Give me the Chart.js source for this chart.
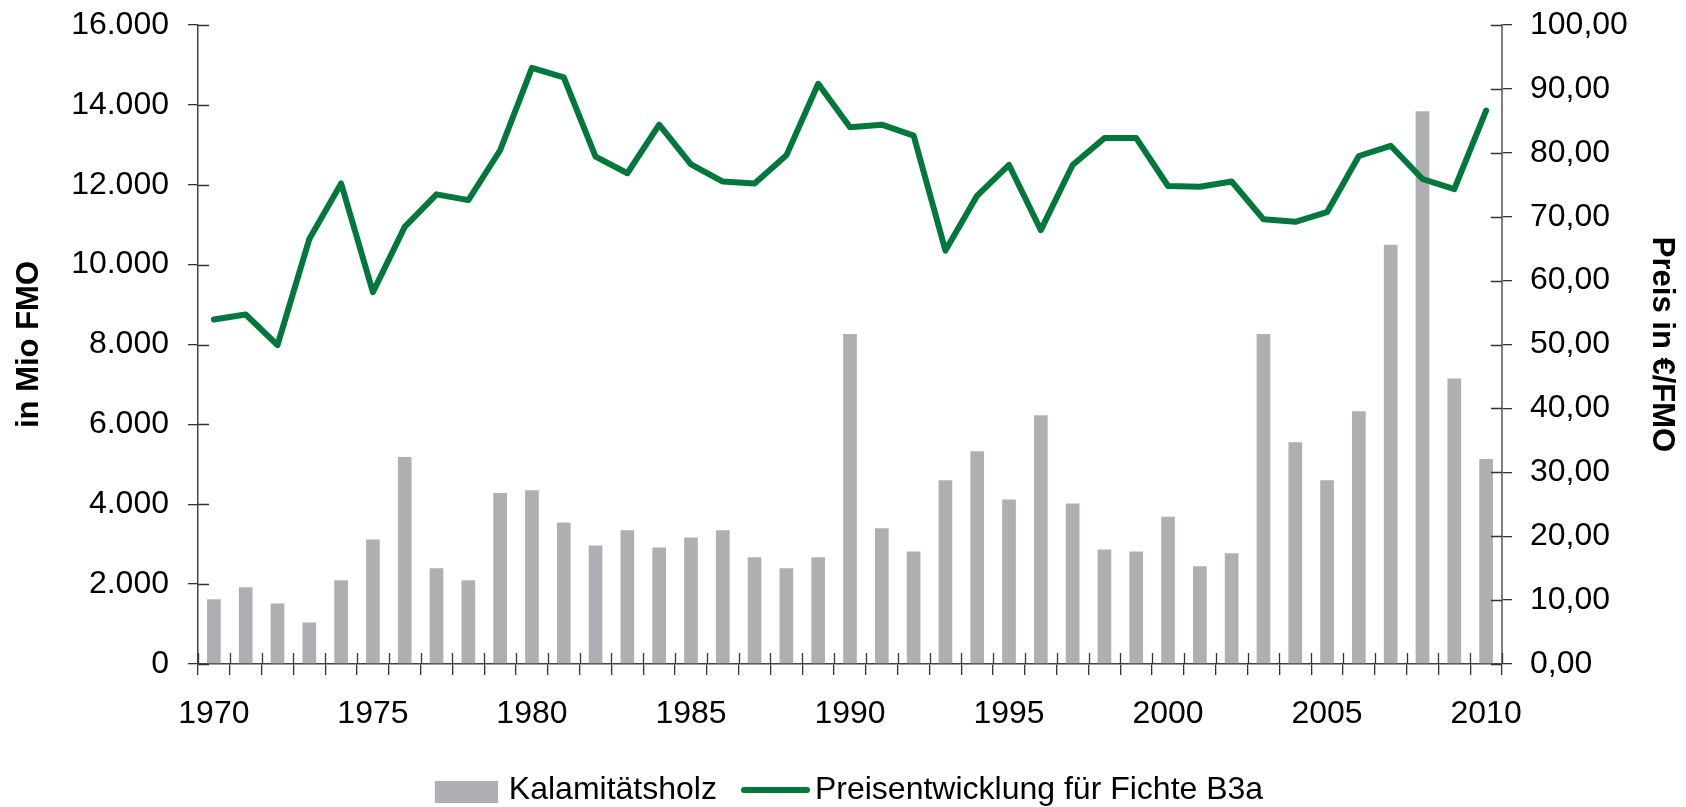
<!DOCTYPE html>
<html>
<head>
<meta charset="utf-8">
<script src="https://cdn.jsdelivr.net/npm/chart.js@4.4.1/dist/chart.umd.min.js"></script>
<style>
html,body{margin:0;padding:0;background:#fff;}
#wrap{width:1686px;height:807px;position:relative;}
canvas{display:block;}
</style>
</head>
<body>
<div id="wrap"><canvas id="c" width="1686" height="807"></canvas></div>
<script>
// ---- data ----
const years = ['1970','1971','1972','1973','1974','1975','1976','1977','1978','1979',
               '1980','1981','1982','1983','1984','1985','1986','1987','1988','1989',
               '1990','1991','1992','1993','1994','1995','1996','1997','1998','1999',
               '2000','2001','2002','2003','2004','2005','2006','2007','2008','2009',
               '2010'];
const kalamitaetsholz = [1620,1920,1515,1040,2100,3120,5180,2400,2100,4280,
                         4350,3545,2970,3350,2920,3170,3350,2675,2400,2675,
                         8260,3400,2820,4600,5330,4120,6230,4020,2870,2820,
                         3690,2445,2770,8260,5550,4600,6330,10500,13840,7150,
                         5130];
const preisFichte = [53.9,54.7,49.9,66.5,75.2,58.2,68.4,73.5,72.6,80.4,
                     93.3,91.8,79.4,76.8,84.4,78.2,75.5,75.2,79.6,90.8,
                     84.0,84.4,82.7,64.7,73.3,78.1,67.9,78.1,82.3,82.3,
                     74.8,74.7,75.5,69.6,69.2,70.7,79.5,81.1,75.9,74.3,
                     86.6];
const seriesNames = ['Kalamitätsholz', 'Preisentwicklung für Fichte B3a'];
const axisTitles = ['in Mio FMO', 'Preis in €/FMO'];

// ---- styles ----
const GRAY = '#AEAFB3';
const GREEN = '#00783B';
const FONT = "'Liberation Sans', Arial, Helvetica, sans-serif";

function legendBoxImage() {
  const c = document.createElement('canvas');
  c.width = 80; c.height = 26;
  const g = c.getContext('2d');
  g.fillStyle = GRAY;
  g.fillRect(17, 4, 63, 22);
  return c;
}
function legendLineImage() {
  const c = document.createElement('canvas');
  c.width = 92; c.height = 8;
  const g = c.getContext('2d');
  g.strokeStyle = GREEN;
  g.lineWidth = 6;
  g.lineCap = 'round';
  g.beginPath();
  g.moveTo(26, 4); g.lineTo(89, 4);
  g.stroke();
  return c;
}
const legendImgs = [legendBoxImage(), legendLineImage()];

const innerTicks = {
  id: 'innerTicks',
  afterDraw(chart) {
    const {ctx} = chart;
    const x = chart.scales.x, y = chart.scales.y, y1 = chart.scales.y1;
    ctx.save();
    ctx.lineWidth = 1.3;
    ctx.strokeStyle = '#333';
    ctx.beginPath();
    y.ticks.forEach((t, i) => {
      const py = Math.round(y.getPixelForTick(i)) + 0.5;
      ctx.moveTo(y.right, py); ctx.lineTo(y.right + 11, py);
    });
    y1.ticks.forEach((t, i) => {
      const py = Math.round(y1.getPixelForTick(i)) + 0.5;
      ctx.moveTo(y1.left - 11, py); ctx.lineTo(y1.left, py);
    });
    const n = x.ticks.length;
    for (let i = 0; i <= n; i++) {
      let px;
      if (i === 0) px = x.left;
      else if (i === n) px = x.right;
      else px = (x.getPixelForTick(i - 1) + x.getPixelForTick(i)) / 2;
      px = Math.round(px) + 0.5;
      ctx.moveTo(px, x.top); ctx.lineTo(px, x.top - 11);
    }
    ctx.stroke();
    ctx.restore();
  }
};

Chart.defaults.font.family = FONT;
Chart.defaults.color = '#000';

new Chart(document.getElementById('c'), {
  type: 'bar',
  data: {
    labels: years,
    datasets: [
      {
        type: 'bar',
        label: seriesNames[0],
        data: kalamitaetsholz,
        yAxisID: 'y',
        backgroundColor: GRAY,
        borderWidth: 0,
        barPercentage: 0.43,
        categoryPercentage: 1.0,
        order: 2
      },
      {
        type: 'line',
        label: seriesNames[1],
        data: preisFichte,
        yAxisID: 'y1',
        borderColor: GREEN,
        backgroundColor: GREEN,
        borderWidth: 6,
        borderJoinStyle: 'round',
        borderCapStyle: 'round',
        pointRadius: 0,
        pointHoverRadius: 0,
        tension: 0,
        fill: false,
        order: 1
      }
    ]
  },
  options: {
    responsive: false,
    animation: false,
    devicePixelRatio: 1,
    layout: { padding: { top: 25, left: 0, right: 0, bottom: -9 } },
    plugins: {
      tooltip: { enabled: false },
      legend: {
        position: 'bottom',
        align: 'center',
        labels: {
          font: { size: 32, family: FONT },
          color: '#000',
          usePointStyle: true,
          pointStyleWidth: 70,
          padding: 12,
          generateLabels(chart) {
            return chart.data.datasets.map((ds, i) => ({
              text: ds.label,
              datasetIndex: i,
              pointStyle: legendImgs[i],
              fillStyle: i === 0 ? GRAY : GREEN,
              strokeStyle: i === 0 ? GRAY : GREEN,
              lineWidth: 0,
              hidden: false,
              fontColor: '#000'
            }));
          }
        }
      }
    },
    scales: {
      x: {
        type: 'category',
        offset: true,
        afterFit(s) { s.height = 98; },
        grid: {
          offset: true,
          drawOnChartArea: false,
          drawTicks: true,
          tickLength: 11,
          color: '#333',
          lineWidth: 1.3
        },
        border: { display: true, color: '#444', width: 1.5 },
        ticks: {
          autoSkip: false,
          maxRotation: 0,
          minRotation: 0,
          padding: 20,
          font: { size: 32 },
          color: '#000',
          callback(value, index) {
            const lab = this.getLabelForValue(value);
            return (parseInt(lab, 10) % 5 === 0) ? lab : '';
          }
        }
      },
      y: {
        type: 'linear',
        position: 'left',
        min: 0,
        max: 16000,
        afterFit(s) { s.width = 198; s.paddingTop = 0; s.paddingBottom = 0; },
        grid: {
          drawOnChartArea: false,
          drawTicks: true,
          tickLength: 10,
          color: '#333',
          lineWidth: 1.3
        },
        border: { display: true, color: '#444', width: 1.5 },
        ticks: {
          stepSize: 2000,
          padding: 19,
          font: { size: 32 },
          color: '#000',
          callback(v) { return v.toLocaleString('de-DE'); }
        },
        title: {
          display: true,
          text: axisTitles[0],
          font: { size: 31, weight: 'bold' },
          color: '#000',
          padding: { top: 11, bottom: 0 }
        }
      },
      y1: {
        type: 'linear',
        position: 'right',
        min: 0,
        max: 100,
        afterFit(s) { s.width = 184; s.paddingTop = 0; s.paddingBottom = 0; },
        grid: {
          drawOnChartArea: false,
          drawTicks: true,
          tickLength: 10,
          color: '#333',
          lineWidth: 1.3
        },
        border: { display: true, color: '#808080', width: 2 },
        ticks: {
          stepSize: 10,
          padding: 18,
          font: { size: 32 },
          color: '#000',
          callback(v) { return v.toFixed(2).replace('.', ','); }
        },
        title: {
          display: true,
          text: axisTitles[1],
          font: { size: 31, weight: 'bold' },
          color: '#000',
          padding: { top: 6, bottom: 0 }
        }
      }
    }
  },
  plugins: [innerTicks]
});
</script>
</body>
</html>
